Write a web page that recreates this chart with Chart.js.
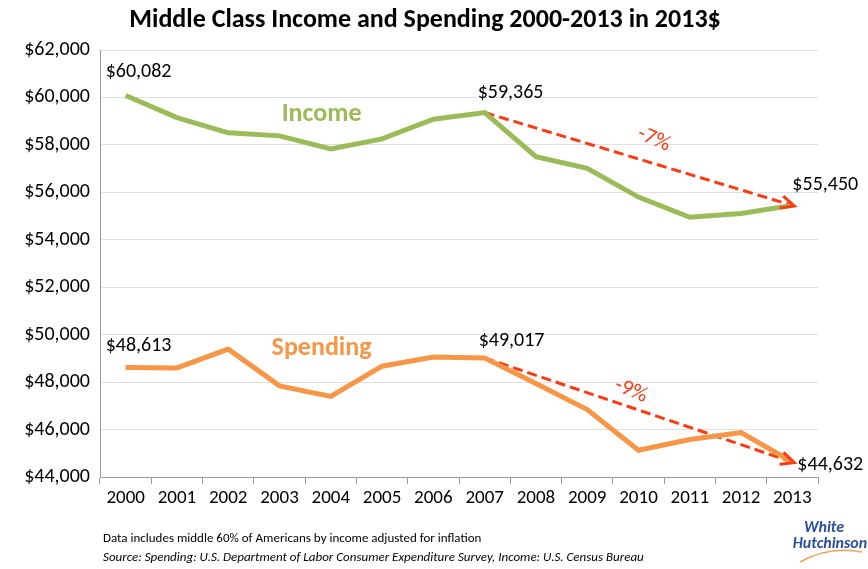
<!DOCTYPE html>
<html>
<head>
<meta charset="utf-8">
<script src="https://cdn.jsdelivr.net/npm/chart.js@4.4.1/dist/chart.umd.min.js"></script>
<style>
  html, body { margin: 0; padding: 0; background: #fff; }
  #wrap { width: 868px; height: 569px; position: relative; }
</style>
</head>
<body>
<div id="wrap"><canvas id="chart" width="868" height="569"></canvas></div>
<script>
// data
var years = ['2000','2001','2002','2003','2004','2005','2006','2007','2008','2009','2010','2011','2012','2013'];
var income = [60082, 59150, 58510, 58380, 57830, 58250, 59080, 59365, 57500, 57010, 55800, 54950, 55110, 55450];
var spending = [48613, 48600, 49390, 47840, 47400, 48670, 49060, 49017, 47940, 46840, 45130, 45580, 45870, 44632];
var incomeTrend = [null, null, null, null, null, null, null, 59365, null, null, null, null, null, 55450];
var spendingTrend = [null, null, null, null, null, null, null, 49017, null, null, null, null, null, 44632];
var yTicks = [44000, 46000, 48000, 50000, 52000, 54000, 56000, 58000, 60000, 62000];

var FONT = 'Carlito, Lato, sans-serif';
var GREEN = '#9bbb59';
var ORANGE = '#f79646';
var RED = '#ff3a12';

function money(v) {
    return '$' + v.toLocaleString('en-US');
}

// value labels, series names, arrow heads, title, footnote
var extras = {
    id: 'extras',
    afterDatasetsDraw: function (chart) {
        var ctx = chart.ctx;
        var xs = chart.scales.x, ys = chart.scales.y;
        ctx.save();

        // arrow heads at the end of the trend lines
        [2, 3].forEach(function (di) {
            var pts = chart.getDatasetMeta(di).data;
            var a = pts[7], b = pts[13];
            var ang = Math.atan2(b.y - a.y, b.x - a.x);
            ctx.strokeStyle = RED;
            ctx.lineWidth = 3;
            ctx.beginPath();
            ctx.moveTo(b.x - 13 * Math.cos(ang - 0.5), b.y - 13 * Math.sin(ang - 0.5));
            ctx.lineTo(b.x + 2 * Math.cos(ang), b.y + 2 * Math.sin(ang));
            ctx.lineTo(b.x - 13 * Math.cos(ang + 0.5), b.y - 13 * Math.sin(ang + 0.5));
            ctx.stroke();
        });

        // point labels
        ctx.fillStyle = '#000';
        ctx.font = '20px ' + FONT;
        ctx.textBaseline = 'middle';
        var inc = chart.getDatasetMeta(0).data;
        var sp = chart.getDatasetMeta(1).data;
        ctx.textAlign = 'left';
        ctx.fillText(money(income[0]), inc[0].x - 20, inc[0].y - 23);
        ctx.fillText(money(spending[0]), sp[0].x - 20, sp[0].y - 22);
        ctx.fillText(money(income[13]), inc[13].x, inc[13].y - 20);
        ctx.fillText(money(spending[13]), sp[13].x + 5, sp[13].y + 3);
        ctx.fillText(money(income[7]), inc[7].x - 7, inc[7].y - 20);
        ctx.fillText(money(spending[7]), sp[7].x - 6, sp[7].y - 17);

        // series names
        ctx.textAlign = 'center';
        ctx.font = 'bold 26px ' + FONT;
        ctx.fillStyle = GREEN;
        ctx.fillText('Income', xs.getPixelForValue(3.82), ys.getPixelForValue(59300));
        ctx.fillStyle = ORANGE;
        ctx.fillText('Spending', xs.getPixelForValue(3.82), ys.getPixelForValue(49400));

        // percentage changes
        ctx.font = '22px ' + FONT;
        ctx.fillStyle = RED;
        [['-7%', 10.3, 58230, 0.4], ['-9%', 9.85, 47630, 0.4]].forEach(function (t) {
            ctx.save();
            ctx.translate(xs.getPixelForValue(t[1]), ys.getPixelForValue(t[2]));
            ctx.rotate(t[3]);
            ctx.fillText(t[0], 0, 0);
            ctx.restore();
        });

        // title
        ctx.fillStyle = '#000';
        ctx.font = 'bold 26px ' + FONT;
        ctx.fillText('Middle Class Income and Spending 2000-2013 in 2013$', 425, 20);

        // footnote
        ctx.textAlign = 'left';
        ctx.font = '13px ' + FONT;
        ctx.fillText('Data includes middle 60% of Americans by income adjusted for inflation', 103, 539);
        ctx.font = 'italic 13px ' + FONT;
        ctx.fillText('Source: Spending: U.S. Department of Labor Consumer Expenditure Survey, Income: U.S. Census Bureau', 103, 558);

        // logo
        ctx.fillStyle = '#2b4fa0';
        ctx.textAlign = 'center';
        ctx.font = 'italic bold 16px "Liberation Sans Narrow", ' + FONT;
        ctx.fillText('White', 824, 528);
        ctx.fillText('Hutchinson', 830, 544);
        ctx.strokeStyle = '#f2a35a';
        ctx.lineWidth = 1.5;
        ctx.beginPath();
        ctx.moveTo(800, 562);
        ctx.quadraticCurveTo(828, 546, 862, 552);
        ctx.stroke();
        ctx.restore();
    }
};

new Chart(document.getElementById('chart'), {
    type: 'line',
    data: {
        labels: years,
        datasets: [
            { label: 'Income', data: income, borderColor: GREEN, borderWidth: 5, pointRadius: 0, tension: 0 },
            { label: 'Spending', data: spending, borderColor: ORANGE, borderWidth: 5, pointRadius: 0, tension: 0 },
            { label: 'Income trend', data: incomeTrend, borderColor: RED, borderWidth: 3, borderDash: [10, 5], pointRadius: 0, spanGaps: true },
            { label: 'Spending trend', data: spendingTrend, borderColor: RED, borderWidth: 3, borderDash: [10, 5], pointRadius: 0, spanGaps: true }
        ]
    },
    options: {
        responsive: false,
        animation: false,
        layout: { padding: { top: 50, right: 50, bottom: 52, left: 0 } },
        plugins: {
            legend: { display: false },
            tooltip: { enabled: false }
        },
        scales: {
            x: {
                offset: true,
                grid: { offset: true, drawOnChartArea: false, tickLength: 7, color: '#999' },
                border: { color: '#999', width: 1 },
                ticks: { color: '#000', font: { family: FONT, size: 19 }, padding: 3, maxRotation: 0 },
                afterFit: function (s) { s.height = 40; }
            },
            y: {
                min: 44000,
                max: 62000,
                afterBuildTicks: function (s) { s.ticks = yTicks.map(function (v) { return { value: v }; }); },
                grid: { color: '#e0e0e0', drawTicks: false },
                border: { color: '#999', width: 1 },
                ticks: { color: '#000', font: { family: FONT, size: 20 }, padding: 10, callback: function (v) { return money(v); } },
                afterFit: function (s) { s.width = 100; }
            }
        }
    },
    plugins: [extras]
});
</script>
</body>
</html>
